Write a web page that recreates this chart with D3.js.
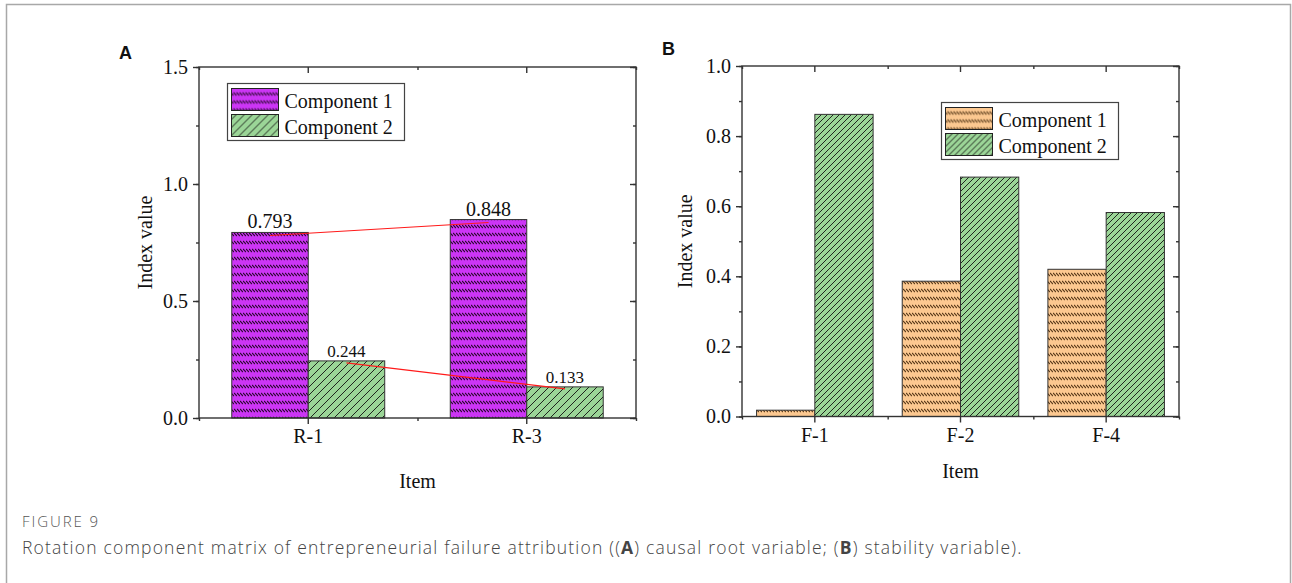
<!DOCTYPE html>
<html>
<head>
<meta charset="utf-8">
<script src="https://cdn.jsdelivr.net/npm/d3@7"></script>
<style>
  body { margin: 0; background: #fff; }
  svg text { fill: #111; }
  .tick text { font-family: "Liberation Serif", "Times New Roman", serif; font-size: 20px; fill: #111; }
  .axis path, .axis line { stroke: #333; stroke-width: 1.4; }
</style>
</head>
<body>
<svg id="fig" width="1292" height="583"></svg>
<script>
// datos
const itemsA = ['R-1', 'R-3'];
const compA1 = [0.793, 0.848];
const compA2 = [0.244, 0.133];
const labelsA1 = ['0.793', '0.848'];
const labelsA2 = ['0.244', '0.133'];

const itemsB = ['F-1', 'F-2', 'F-4'];
const compB1 = [0.018, 0.386, 0.42];
const compB2 = [0.862, 0.683, 0.582];

const ticksA = [0, 0.5, 1.0, 1.5];
const ticksB = [0, 0.2, 0.4, 0.6, 0.8, 1.0];
const seriesNames = ['Component 1', 'Component 2'];

const svg = d3.select('#fig');
const serif = '"Liberation Serif", "Times New Roman", serif';

// marco gris alrededor de la figura
svg.append('rect')
    .attr('x', 6.5).attr('y', 4.5)
    .attr('width', 1284).attr('height', 640)
    .attr('fill', 'none').attr('stroke', '#a8a8a8').attr('stroke-width', 1.5);

// patrones de relleno
const defs = svg.append('defs');
const makeDashPattern = (id, bg, ink) => {
    const p = defs.append('pattern').attr('id', id)
        .attr('patternUnits', 'userSpaceOnUse')
        .attr('width', 3).attr('height', 8);
    p.append('rect').attr('width', 3).attr('height', 8).attr('fill', bg);
    p.append('line').attr('x1', 0).attr('y1', 1).attr('x2', 3).attr('y2', 4)
        .attr('stroke', ink).attr('stroke-width', 1.2);
};
const makeHatchPattern = (id, bg, step) => {
    const p = defs.append('pattern').attr('id', id)
        .attr('patternUnits', 'userSpaceOnUse')
        .attr('width', step).attr('height', step);
    p.append('rect').attr('width', step).attr('height', step).attr('fill', bg);
    p.append('path')
        .attr('d', `M0,${step} L${step},0 M${-step / 2},${step / 2} L${step / 2},${-step / 2} M${step / 2},${step * 1.5} L${step * 1.5},${step / 2}`)
        .attr('stroke', '#111').attr('stroke-width', 0.9);
};
makeDashPattern('magentaDash', '#cc35f5', '#2a0830');
makeDashPattern('orangeDash', '#fcc890', '#5a3a1a');
makeHatchPattern('greenHatchA', '#9bd597', 8);
makeHatchPattern('greenHatchB', '#9bd597', 6);

const drawPanel = (cfg) => {
    const g = svg.append('g');
    const x = d3.scaleBand().domain(cfg.items).range([cfg.left, cfg.right]).padding(0);
    const y = d3.scaleLinear().domain([0, cfg.ymax]).range([cfg.bottom, cfg.top]);
    const bw = x.bandwidth() * cfg.barFrac;
    const cx = d => x(d) + x.bandwidth() / 2;

    // barras
    const series = [
        { vals: cfg.s1, fill: cfg.fill1, off: -bw },
        { vals: cfg.s2, fill: cfg.fill2, off: 0 }
    ];
    series.forEach(s => {
        g.selectAll(null).data(cfg.items).enter().append('rect')
            .attr('x', (d) => cx(d) + s.off)
            .attr('y', (d, i) => y(s.vals[i]))
            .attr('width', bw)
            .attr('height', (d, i) => y(0) - y(s.vals[i]))
            .attr('fill', s.fill)
            .attr('stroke', '#333').attr('stroke-width', 1);
    });

    // marco del area
    g.append('rect')
        .attr('x', cfg.left).attr('y', cfg.top)
        .attr('width', cfg.right - cfg.left).attr('height', cfg.bottom - cfg.top)
        .attr('fill', 'none').attr('stroke', '#333').attr('stroke-width', 1.4);

    // ejes
    const minorY = d3.range(0, cfg.ymax + 1e-9, cfg.minorStep);
    const edges = cfg.items.map(d => x(d)).concat([cfg.right]);
    const xPos = d3.scaleIdentity().domain([cfg.left, cfg.right]);

    g.append('g').attr('class', 'axis').attr('transform', `translate(${cfg.left},0)`)
        .call(d3.axisLeft(y).tickValues(minorY).tickSize(3).tickSizeOuter(0).tickFormat(''));
    g.append('g').attr('class', 'axis').attr('transform', `translate(${cfg.left},0)`)
        .call(d3.axisLeft(y).tickValues(cfg.ticks).tickSize(6).tickSizeOuter(0).tickPadding(5)
            .tickFormat(d3.format('.1f')));
    g.append('g').attr('class', 'axis').attr('transform', `translate(${cfg.right},0)`)
        .call(d3.axisLeft(y).tickValues(minorY).tickSize(3).tickSizeOuter(0).tickFormat(''));
    g.append('g').attr('class', 'axis').attr('transform', `translate(${cfg.right},0)`)
        .call(d3.axisLeft(y).tickValues(cfg.ticks).tickSize(6).tickSizeOuter(0).tickFormat(''));

    g.append('g').attr('class', 'axis').attr('transform', `translate(0,${cfg.bottom})`)
        .call(d3.axisBottom(xPos).tickValues(edges).tickSize(3).tickSizeOuter(0).tickFormat(''));
    g.append('g').attr('class', 'axis').attr('transform', `translate(0,${cfg.bottom})`)
        .call(d3.axisBottom(x).tickSize(6).tickSizeOuter(0).tickPadding(5));
    g.append('g').attr('class', 'axis').attr('transform', `translate(0,${cfg.top})`)
        .call(d3.axisBottom(xPos).tickValues(edges).tickSize(3).tickSizeOuter(0).tickFormat(''));
    g.append('g').attr('class', 'axis').attr('transform', `translate(0,${cfg.top})`)
        .call(d3.axisBottom(x).tickSize(6).tickSizeOuter(0).tickFormat(''));

    g.selectAll('.axis .domain').remove();

    // titulos de ejes
    g.append('text')
        .attr('transform', `translate(${cfg.ylabX},${(cfg.top + cfg.bottom) / 2}) rotate(-90)`)
        .attr('text-anchor', 'middle').attr('font-family', serif).attr('font-size', 20)
        .text('Index value');
    g.append('text')
        .attr('x', (cfg.left + cfg.right) / 2).attr('y', cfg.xlabY)
        .attr('text-anchor', 'middle').attr('font-family', serif).attr('font-size', 20)
        .text('Item');

    // letra del panel
    g.append('text')
        .attr('x', cfg.letterX).attr('y', cfg.letterY)
        .attr('font-family', '"Liberation Sans", Arial, sans-serif').attr('font-weight', 'bold')
        .attr('font-size', 18).text(cfg.letter);

    // leyenda
    const lg = g.append('g').attr('transform', `translate(${cfg.legX},${cfg.legY})`);
    lg.append('rect').attr('width', 177).attr('height', 57)
        .attr('fill', '#fff').attr('stroke', '#444').attr('stroke-width', 1.2);
    [cfg.fill1, cfg.fill2].forEach((f, i) => {
        lg.append('rect').attr('x', 4).attr('y', 5 + i * 26).attr('width', 47).attr('height', 22)
            .attr('fill', f).attr('stroke', '#222').attr('stroke-width', 1);
        lg.append('text').attr('x', 57).attr('y', 24 + i * 26)
            .attr('font-family', serif).attr('font-size', 20).text(seriesNames[i]);
    });

    return { x, y, cx, bw };
};

const A = drawPanel({
    items: itemsA, s1: compA1, s2: compA2, ymax: 1.5, ticks: ticksA, minorStep: 0.25,
    left: 199, right: 636, top: 67, bottom: 418, barFrac: 0.35,
    fill1: 'url(#magentaDash)', fill2: 'url(#greenHatchA)',
    ylabX: 152, xlabY: 488, letter: 'A', letterX: 119, letterY: 59,
    legX: 227.5, legY: 83.5
});

const B = drawPanel({
    items: itemsB, s1: compB1, s2: compB2, ymax: 1.0, ticks: ticksB, minorStep: 0.1,
    left: 742, right: 1179, top: 66, bottom: 416.5, barFrac: 0.4,
    fill1: 'url(#orangeDash)', fill2: 'url(#greenHatchB)',
    ylabX: 692, xlabY: 478, letter: 'B', letterX: 662, letterY: 55,
    legX: 941.5, legY: 102.5
});

// lineas rojas y etiquetas del panel A
const lineA = d3.line().x(d => d[0]).y(d => d[1]);
svg.append('path')
    .attr('d', lineA(itemsA.map((d, i) => [A.cx(d) - A.bw / 2, A.y(compA1[i]) + 3])))
    .attr('fill', 'none').attr('stroke', '#ff1a1a').attr('stroke-width', 1.1);
svg.append('path')
    .attr('d', lineA(itemsA.map((d, i) => [A.cx(d) + A.bw / 2, A.y(compA2[i]) + 2])))
    .attr('fill', 'none').attr('stroke', '#ff1a1a').attr('stroke-width', 1.1);

svg.selectAll(null).data(itemsA).enter().append('text')
    .attr('x', d => A.cx(d) - A.bw / 2)
    .attr('y', (d, i) => A.y(compA1[i]) - 4)
    .attr('text-anchor', 'middle').attr('font-family', serif).attr('font-size', 20)
    .text((d, i) => labelsA1[i]);
svg.selectAll(null).data(itemsA).enter().append('text')
    .attr('x', d => A.cx(d) + A.bw / 2)
    .attr('y', (d, i) => A.y(compA2[i]) - 4)
    .attr('text-anchor', 'middle').attr('font-family', serif).attr('font-size', 17)
    .text((d, i) => labelsA2[i]);

// pie de figura (se ajusta el espaciado al ancho del original)
const sans = '"Open Sans", "Noto Sans", sans-serif';
const fitWidth = (sel, target) => {
    const node = sel.node();
    const w = node.getComputedTextLength();
    const n = node.textContent.length;
    sel.attr('letter-spacing', ((target - w) / n).toFixed(2));
};
const figLab = svg.append('text').attr('x', 22).attr('y', 527)
    .attr('font-family', sans).attr('font-size', 15).attr('font-weight', 300).style('fill', '#555')
    .text('FIGURE 9');
fitWidth(figLab, 78);
const cap = svg.append('text').attr('x', 22).attr('y', 554)
    .attr('font-family', sans).attr('font-size', 17.5).attr('font-weight', 300).style('fill', '#444');
cap.append('tspan').text('Rotation component matrix of entrepreneurial failure attribution ((');
cap.append('tspan').attr('font-weight', 'bold').text('A');
cap.append('tspan').text(') causal root variable; (');
cap.append('tspan').attr('font-weight', 'bold').text('B');
cap.append('tspan').text(') stability variable).');
fitWidth(cap, 1000);
</script>
</body>
</html>
